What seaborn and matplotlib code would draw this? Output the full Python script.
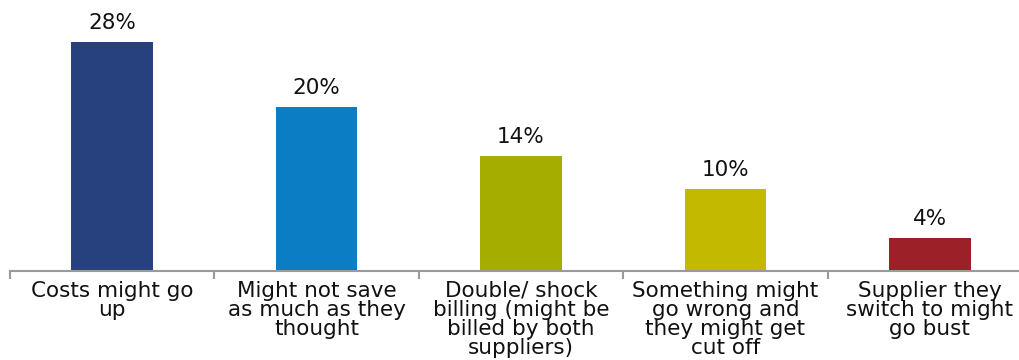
import matplotlib
matplotlib.use("Agg")
import matplotlib.pyplot as plt
import seaborn as sns
import pandas as pd
from matplotlib.ticker import FixedLocator, NullLocator

categories = [
    "Costs might go\nup",
    "Might not save\nas much as they\nthought",
    "Double/ shock\nbilling (might be\nbilled by both\nsuppliers)",
    "Something might\ngo wrong and\nthey might get\ncut off",
    "Supplier they\nswitch to might\ngo bust",
]
values = [28, 20, 14, 10, 4]
colors = ["#27417F", "#0B7DC4", "#A5AE00", "#C3B900", "#9B2027"]

sns.set_theme(style="white")
plt.rcParams["font.family"] = ["DejaVu Sans"]

df = pd.DataFrame({"category": categories, "value": values})

fig = plt.figure(figsize=(10.2, 3.6), dpi=100)
ax = fig.add_axes([10 / 1020, 89 / 360, 1022 / 1020, 262 / 360])

sns.barplot(data=df, x="category", y="value", hue="category",
            palette=colors, width=0.4, legend=False, ax=ax,
            saturation=1, linewidth=0)

ax.set_xlim(-0.5, len(categories) - 0.5)
ax.set_ylim(0, 32)

for i, v in enumerate(values):
    ax.text(i, v + 1.1, f"{v}%", ha="center", va="bottom",
            fontsize=15.5, color="#111111")

for side in ["top", "right", "left"]:
    ax.spines[side].set_visible(False)
ax.spines["bottom"].set_color("#9a9a9a")
ax.spines["bottom"].set_linewidth(1.5)

ax.yaxis.set_major_locator(NullLocator())
ax.set_xlabel("")
ax.set_ylabel("")

# major ticks carry the labels, minor ticks mark category boundaries
ax.tick_params(axis="x", which="major", length=0, pad=7,
               labelsize=15.5, labelcolor="#111111")
ax.xaxis.set_minor_locator(FixedLocator([i - 0.5 for i in range(len(categories) + 1)]))
ax.tick_params(axis="x", which="minor", bottom=True, length=6,
               width=1.5, color="#9a9a9a", direction="out")
for lbl in ax.get_xticklabels():
    lbl.set_linespacing(0.94)
    lbl.set_verticalalignment("top")

fig.savefig("out.png", dpi=100)
